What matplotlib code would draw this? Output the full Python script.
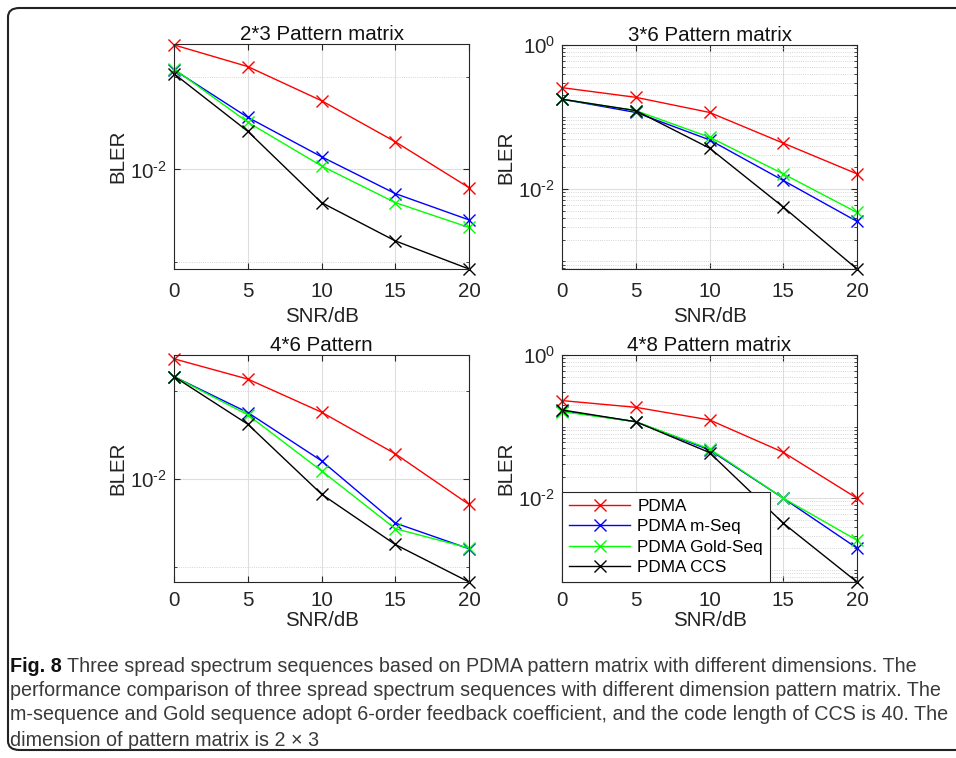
import numpy as np
import matplotlib
matplotlib.use("Agg")
import matplotlib.pyplot as plt
from matplotlib.patches import FancyBboxPatch
from matplotlib.ticker import FixedLocator, NullFormatter

plt.rcParams["font.family"] = ["Liberation Sans", "DejaVu Sans"]
plt.rcParams["mathtext.fontset"] = "custom"
plt.rcParams["mathtext.rm"] = "Liberation Sans"
plt.rcParams["mathtext.it"] = "Liberation Sans"

snr = [0, 5, 10, 15, 20]
labels = ["PDMA", "PDMA m-Seq", "PDMA Gold-Seq", "PDMA CCS"]
colors = ["#ff0000", "#0000ff", "#00ff00", "#000000"]

# BLER, one list per curve
p23_pdma = [0.221, 0.129, 0.0552, 0.0199, 0.00635]
p23_mseq = [0.119, 0.0365, 0.0137, 0.00548, 0.00285]
p23_gold = [0.122, 0.0323, 0.0109, 0.00438, 0.00236]
p23_ccs = [0.108, 0.0258, 0.00438, 0.00169, 0.00084]

p36_pdma = [0.256, 0.188, 0.116, 0.0435, 0.0163]
p36_mseq = [0.177, 0.116, 0.0483, 0.0132, 0.00357]
p36_gold = [0.177, 0.123, 0.0526, 0.0163, 0.00475]
p36_ccs = [0.177, 0.123, 0.0371, 0.00565, 0.00078]

p46_pdma = [0.229, 0.135, 0.0569, 0.0192, 0.00512]
p46_mseq = [0.144, 0.0564, 0.016, 0.00315, 0.00161]
p46_gold = [0.144, 0.0531, 0.0123, 0.00272, 0.00164]
p46_ccs = [0.144, 0.0416, 0.0067, 0.0018, 0.000676]

p48_pdma = [0.231, 0.186, 0.124, 0.0438, 0.01]
p48_mseq = [0.166, 0.117, 0.0473, 0.01, 0.00201]
p48_gold = [0.162, 0.117, 0.0489, 0.01, 0.00259]
p48_ccs = [0.171, 0.117, 0.0434, 0.00448, 0.000676]

titles = ["2*3 Pattern matrix", "3*6 Pattern matrix", "4*6 Pattern", "4*8 Pattern matrix"]
panels = [
    [p23_pdma, p23_mseq, p23_gold, p23_ccs],
    [p36_pdma, p36_mseq, p36_gold, p36_ccs],
    [p46_pdma, p46_mseq, p46_gold, p46_ccs],
    [p48_pdma, p48_mseq, p48_gold, p48_ccs],
]
ylims = [(8.4e-4, 0.226), (7.8e-4, 1.0), (6.76e-4, 0.253), (6.76e-4, 1.0)]

W, H = 956, 758
fig = plt.figure(figsize=(W / 100, H / 100), dpi=100)

# rounded frame around figure + caption
frame = FancyBboxPatch((8 / W, 8 / H), 960 / W, 742 / H,
                       boxstyle="round,pad=0,rounding_size=0.012",
                       transform=fig.transFigure, fill=False,
                       edgecolor="#222222", linewidth=1.5)
fig.patches.append(frame)

boxes = [(174, 44, 469, 269), (562, 45, 857, 269),
         (174, 355, 469, 582), (562, 355, 857, 582)]

fs = 14.8
hy = "\u2010"  # short hyphen in exponent, as in the original
for i, (x0, y0, x1, y1) in enumerate(boxes):
    ax = fig.add_axes([x0 / W, 1 - y1 / H, (x1 - x0) / W, (y1 - y0) / H])
    for vals, lab, c in zip(panels[i], labels, colors):
        ax.plot(snr, vals, color=c, marker="x", markersize=9, linewidth=1.0,
                markeredgewidth=1.0, label=lab, clip_on=False)
    ax.set_yscale("log")
    ax.set_xlim(0, 20)
    ax.set_ylim(*ylims[i])
    ax.set_xticks(snr)
    if i in (0, 2):
        ax.yaxis.set_major_locator(FixedLocator([1e-2]))
        ax.yaxis.set_minor_locator(FixedLocator([1e-3, 1e-1]))
        ax.set_yticklabels(["$10^{" + hy + "2}$"])
    else:
        ax.yaxis.set_major_locator(FixedLocator([1e-2, 1e0]))
        minors = [m * 10.0 ** e for e in (-4, -3, -2, -1) for m in range(1, 10)]
        minors = [v for v in minors if v != 1e-2]
        ax.yaxis.set_minor_locator(FixedLocator(minors))
        ax.set_yticklabels(["$10^{" + hy + "2}$", "$10^{0}$"])
    ax.yaxis.set_minor_formatter(NullFormatter())
    ax.grid(True, which="major", color="#dedede", linewidth=0.8, linestyle="-")
    ax.grid(True, which="minor", axis="y", color="#c8c8c8", linewidth=0.6, linestyle=":")
    ax.set_axisbelow(True)
    ax.tick_params(which="both", direction="in", top=True, right=True,
                   labelsize=fs, colors="#262626", length=4)
    top_row = i < 2
    ax.tick_params(axis="x", pad=9 if top_row else 6.5)
    ax.tick_params(axis="y", pad=5)
    ax.tick_params(which="minor", length=2)
    for sp in ax.spines.values():
        sp.set_color("#262626")
        sp.set_linewidth(0.8)
    ax.set_title(titles[i], fontsize=fs, pad=3, color="#111111")
    ax.set_xlabel("SNR/dB", fontsize=fs, labelpad=5 if top_row else 0.5, color="#222222")
    ax.set_ylabel("BLER", fontsize=fs, labelpad=2, color="#222222")
    if i == 3:
        leg = ax.legend(loc="lower left", fontsize=12.3, frameon=True, fancybox=False,
                        edgecolor="#262626", framealpha=1, borderaxespad=0,
                        handlelength=3.6, labelspacing=0.32, borderpad=0.4,
                        handletextpad=0.4)
        leg.get_frame().set_linewidth(0.8)

# caption
cap_font = ["Liberation Sans", "DejaVu Sans"]
cap_size = 14.2
lines = [
    "Three spread spectrum sequences based on PDMA pattern matrix with different dimensions. The",
    "performance comparison of three spread spectrum sequences with different dimension pattern matrix. The",
    "m-sequence and Gold sequence adopt 6-order feedback coefficient, and the code length of CCS is 40. The",
    "dimension of pattern matrix is 2 \u00d7 3",
]
ys = [667, 691, 715, 740]
bold = fig.text(10 / W, 1 - ys[0] / H, "Fig. 8", family=cap_font, fontsize=cap_size,
                fontweight="bold", color="#111111", va="center", ha="left")
r = fig.canvas.get_renderer()
bb = bold.get_window_extent(renderer=r)
fig.text((bb.x1 + 5) / W, 1 - ys[0] / H, lines[0], family=cap_font, fontsize=cap_size,
         color="#3a3a3a", va="center", ha="left")
for t, y in zip(lines[1:], ys[1:]):
    fig.text(10 / W, 1 - y / H, t, family=cap_font, fontsize=cap_size,
             color="#3a3a3a", va="center", ha="left")

fig.savefig("out.png", dpi=100)
